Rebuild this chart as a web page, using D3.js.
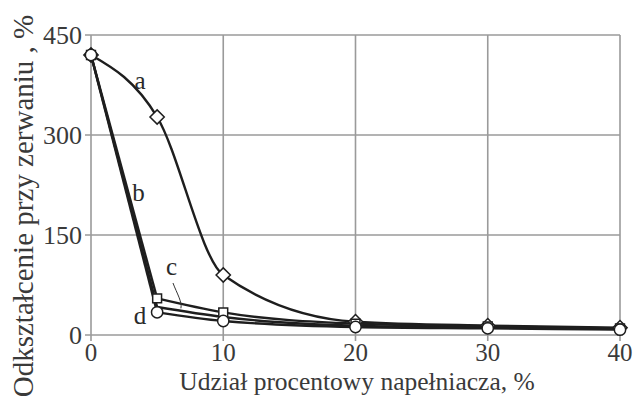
<!DOCTYPE html>
<html lang="pl">
  <head>
    <meta charset="utf-8">
    <title>Odkształcenie przy zerwaniu</title>
    <style>
      body { margin: 0; background: #fff; }
      .grid line { stroke: #9a9a9a; stroke-width: 1.6; }
      .line { fill: none; stroke: #1e1e1e; stroke-width: 2.4; }
      .mark { fill: #fff; stroke: #1e1e1e; stroke-width: 1.5; }
    </style>
  </head>
  <body>
    <svg id="chart" width="634" height="399"></svg>
    <script src="https://d3js.org/d3.v7.min.js"></script>
    <script>
      // data
      const filler = [0, 5, 10, 20, 30, 40];
      const seriesA = [420, 327, 90, 20, 14, 11];
      const seriesB = [420, 42, 27, 14, 11, 9];
      const seriesC = [420, 55, 34, 17, 13, 10];
      const seriesD = [420, 34, 21, 12, 10, 8];
      const xTicks = [0, 10, 20, 30, 40];
      const yTicks = [0, 150, 300, 450];

      const series = [
        {name: "a", values: seriesA, marker: "diamond", straightStart: false},
        {name: "b", values: seriesB, marker: null, straightStart: true},
        {name: "c", values: seriesC, marker: "square", straightStart: true},
        {name: "d", values: seriesD, marker: "circle", straightStart: true}
      ];

      const FONT = "'Liberation Serif', 'Times New Roman', Times, serif";

      const svg = d3.select("#chart");
      const margin = {top: 35, right: 14, bottom: 64, left: 91},
            width = 634 - margin.left - margin.right,
            height = 399 - margin.top - margin.bottom;

      const g = svg.append("g").attr("transform", `translate(${margin.left},${margin.top})`);

      const x = d3.scaleLinear().domain([0, 40]).range([0, width]);
      const y = d3.scaleLinear().domain([0, 450]).range([height, 0]);

      // grid
      const grid = g.append("g").attr("class", "grid");
      grid.selectAll(".v").data(xTicks).enter().append("line")
        .attr("x1", d => x(d)).attr("x2", d => x(d)).attr("y1", 0).attr("y2", height + 6);
      grid.selectAll(".h").data(yTicks).enter().append("line")
        .attr("x1", -6).attr("x2", width).attr("y1", d => y(d)).attr("y2", d => y(d));

      // tick labels
      g.selectAll(".xt").data(xTicks).enter().append("text")
        .attr("x", d => x(d)).attr("y", height + 26)
        .attr("text-anchor", "middle").attr("font-family", FONT).attr("font-size", 25)
        .attr("fill", "#3a3a3a").text(d => d);
      g.selectAll(".yt").data(yTicks).enter().append("text")
        .attr("x", -9).attr("y", d => y(d) + 9)
        .attr("text-anchor", "end").attr("font-family", FONT).attr("font-size", 26)
        .attr("fill", "#3a3a3a").text(d => d);

      // axis titles
      svg.append("text").attr("x", 357).attr("y", 390)
        .attr("text-anchor", "middle").attr("font-family", FONT).attr("font-size", 25.5)
        .attr("fill", "#3a3a3a")
        .text("Udział procentowy napełniacza, %");
      svg.append("text")
        .attr("transform", "translate(33,206) rotate(-90)")
        .attr("text-anchor", "middle").attr("font-family", FONT).attr("font-size", 29)
        .attr("fill", "#3a3a3a")
        .text("Odkształcenie przy zerwaniu , %");

      const smooth = d3.line().x(d => x(d[0])).y(d => y(d[1])).curve(d3.curveMonotoneX);
      const straight = d3.line().x(d => x(d[0])).y(d => y(d[1]));

      series.forEach(s => {
        const pts = filler.map((f, i) => [f, s.values[i]]);
        if (s.straightStart) {
          g.append("path").attr("class", "line").attr("d", straight(pts.slice(0, 2)));
          g.append("path").attr("class", "line").attr("d", smooth(pts.slice(1)));
        } else {
          g.append("path").attr("class", "line").attr("d", smooth(pts));
        }
      });

      // markers drawn on top
      const shapes = {diamond: d3.symbolDiamond2, square: d3.symbolSquare2, circle: d3.symbolCircle};
      series.filter(s => s.marker).forEach(s => {
        g.selectAll(null).data(filler.map((f, i) => [f, s.values[i]])).enter().append("path")
          .attr("class", "mark")
          .attr("d", d3.symbol().type(shapes[s.marker]).size(s.marker === "diamond" ? 130 : 100))
          .attr("transform", d => `translate(${x(d[0])},${y(d[1])})`);
      });

      // curve letters
      const labels = [
        {t: "a", x: 3.7, y: 380},
        {t: "b", x: 3.6, y: 212},
        {t: "c", x: 6.1, y: 100},
        {t: "d", x: 3.7, y: 27}
      ];
      g.selectAll(".lab").data(labels).enter().append("text")
        .attr("x", d => x(d.x)).attr("y", d => y(d.y) + 7)
        .attr("text-anchor", "middle").attr("font-family", FONT).attr("font-size", 25)
        .attr("fill", "#2a2a2a")
        .text(d => d.t);

      // leader from "c" to its curve
      g.append("path")
        .attr("d", `M${x(6.2)},${y(78)} C${x(6.5)},${y(62)} ${x(6.9)},${y(50)} ${x(6.8)},${y(40)}`)
        .attr("fill", "none").attr("stroke", "#333").attr("stroke-width", 1);
    </script>
  </body>
</html>
